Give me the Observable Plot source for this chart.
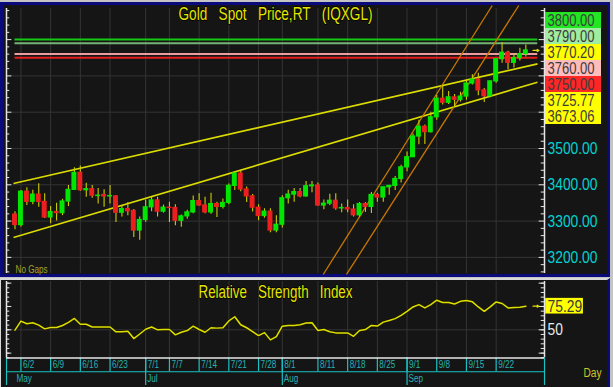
<!DOCTYPE html>
<html><head><meta charset="utf-8">
<script src="https://cdn.jsdelivr.net/npm/d3@7"></script>
<script src="https://cdn.jsdelivr.net/npm/@observablehq/plot@0.6"></script>
<style>
html,body{margin:0;padding:0;background:#c4c4c4;}
#root{position:relative;width:613px;height:387px;overflow:hidden;background:#c4c4c4;}
.pane{position:absolute;box-sizing:border-box;background:#151515;}
#topPane{left:0;top:2px;width:610px;height:275px;border:3px solid #0a0a7c;}
#botPane{left:0;top:278px;width:610px;height:109px;border-top:2px solid #d8d8d8;border-left:1px solid #d8d8d8;border-right:3px solid #0a0a7c;}
</style></head>
<body><div id="root"><div class="pane" id="topPane"></div><div class="pane" id="botPane"></div></div>
<script>
// ---------------- data ----------------
const dates = ["5/30",
 "6/2","6/3","6/4","6/5","6/6","6/9","6/10","6/11","6/12","6/13",
 "6/16","6/17","6/18","6/19","6/20","6/23","6/24","6/25","6/26","6/27","6/30",
 "7/1","7/2","7/3","7/4","7/7","7/8","7/9","7/10","7/11","7/14","7/15","7/16","7/17","7/18",
 "7/21","7/22","7/23","7/24","7/25","7/28","7/29","7/30","7/31",
 "8/1","8/4","8/5","8/6","8/7","8/8","8/11","8/12","8/13","8/14","8/15",
 "8/18","8/19","8/20","8/21","8/22","8/25","8/26","8/27","8/28","8/29",
 "9/1","9/2","9/3","9/4","9/5","9/8","9/9","9/10","9/11","9/12",
 "9/15","9/16","9/17","9/18","9/19","9/22","9/23","9/24","9/25","9/26","9/29"];
const openP = [3318,
 3289,3381,3353,3373,3353,3310,3325,3322,3354,3386,
 3433,3385,3388,3369,3372,3368,3368,3323,3333,3328,3274,
 3303,3338,3357,3326,3337,3336,3301,3313,3324,3355,3343,3324,3347,3339,
 3350,3397,3431,3387,3368,3337,3314,3326,3274,
 3290,3363,3373,3380,3368,3396,3398,3343,3348,3356,3335,
 3336,3332,3316,3347,3339,3372,3365,3393,3397,3416,
 3448,3476,3533,3560,3545,3586,3637,3626,3641,3634,
 3643,3679,3690,3660,3644,3685,3746,3764,3736,3749,3760];
const highP = [3326,
 3384,3392,3385,3403,3375,3340,3349,3360,3398,3447,
 3452,3404,3398,3390,3386,3398,3370,3340,3351,3332,3311,
 3358,3365,3366,3344,3352,3345,3317,3330,3369,3375,3366,3377,3352,3361,
 3402,3433,3439,3394,3373,3345,3334,3334,3315,
 3370,3385,3390,3390,3409,3409,3405,3358,3374,3375,3347,
 3358,3345,3351,3351,3379,3377,3393,3398,3423,3454,
 3490,3540,3578,3565,3600,3646,3674,3657,3649,3655,
 3685,3703,3707,3665,3686,3748,3791,3768,3760,3776,3785];
const lowP = [3276,
 3284,3343,3345,3338,3307,3293,3300,3315,3340,3384,
 3382,3366,3363,3347,3338,3347,3296,3311,3315,3255,3247,
 3297,3326,3311,3322,3296,3287,3283,3305,3320,3341,3320,3319,3310,3333,
 3345,3384,3381,3351,3325,3301,3308,3268,3268,
 3281,3347,3352,3364,3366,3378,3341,3331,3343,3330,3323,
 3323,3311,3311,3324,3321,3352,3352,3371,3384,3405,
 3436,3475,3510,3511,3543,3578,3620,3621,3613,3628,
 3633,3675,3645,3627,3640,3680,3735,3717,3722,3741,3752];
const closeP = [3289,
 3381,3353,3373,3353,3310,3325,3322,3354,3386,3433,
 3385,3388,3370,3370,3368,3369,3323,3333,3327,3274,3303,
 3338,3357,3326,3337,3336,3301,3313,3324,3355,3343,3324,3347,3339,3350,
 3397,3431,3387,3368,3337,3314,3326,3274,3290,
 3363,3373,3380,3368,3396,3398,3343,3348,3356,3335,3336,
 3332,3316,3347,3339,3372,3365,3393,3397,3416,3448,
 3476,3533,3560,3545,3586,3637,3626,3641,3634,3643,
 3679,3690,3660,3644,3685,3746,3764,3736,3749,3760,3770.2];
const rsiValues = [49.6,
 59.3,56.5,57.5,55,51,52.5,52.5,54.6,58,62.2,
 56,56,53,53,53,53,47.8,48,48.5,40.6,45.5,
 50.6,53,50,50.3,50.3,44.6,47.4,49.2,53.9,50.3,47.4,52.2,51.8,52.2,
 59.5,64,55.4,52.2,48,43.8,47,39.2,42.7,
 53.9,54.7,54.7,55.5,57.2,57.6,49.2,50.3,48,46.7,46.7,
 46.7,43,49.2,50.3,54.7,54,58.2,60,62,65.5,
 69.8,74.5,77,73.4,77,81.7,79.2,79.2,77.6,80.5,
 81.4,80,74.5,69.8,74.5,79.9,78.2,73.4,73.8,74.2,75.29];
const tickDates = ["6/2","6/9","6/16","6/23","7/1","7/7","7/14","7/21","7/28","8/1","8/11","8/18","8/25","9/1","9/8","9/15","9/22"];
const monthDates = ["5/30","7/1","8/1","9/1"];
const monthLabels = ["May","Jul","Aug","Sep"];
const priceTicks = [3200,3300,3400,3500];
const priceGrid = [3200,3300,3400,3500,3600,3700];
const levelValues = [3800,3790,3760,3750];
const levelColors = ["#14c814","#74b474","#ec9c9c","#e01c1c"];
const boxLabels = ["3800.00","3790.00","3770.20","3760.00","3750.00","3725.77","3673.06"];
const boxColors = ["#22e622","#a0eca0","#ffff00","#ffbcbc","#ff2626","#ffff00","#ffff00"];
// trendlines: [index1, price1, index2, price2]
const yellowTrends = [[-0.25,3403.6,87.96,3733.1],[-0.25,3255,87.96,3682.6]];
const orangeTrends = [[51.89,3152.9,80.34,3894],[55.81,3153,84.81,3894]];
const lastPrice = 3770.2;
const lastRsi = 75.29;
const titleText = "Gold Spot Price,RT (IQXGL)";
const rsiTitleText = "Relative Strength Index";

// ---------------- helpers ----------------
const root = document.getElementById("root");
function place(el, left, top){el.style.position="absolute";el.style.left=left+"px";el.style.top=top+"px";root.appendChild(el);}
const FONT = "'Liberation Sans Narrow','Arial Narrow','Liberation Sans',Arial,sans-serif";
const XD = [-1.43, 89.14];
const lastIdx = dates.length - 1;
const tickIdx = tickDates.map(d => dates.indexOf(d));
const monthIdx = monthDates.map(d => dates.indexOf(d));
const candles = dates.map((d,i)=>({i, d, o:openP[i], h:highP[i], l:lowP[i], c:closeP[i]}));
const levels = levelValues.map((v,i)=>({v, color:levelColors[i]}));
const PY = [3155.6, 3885.7];
const minorP = d3.range(3160, 3881, 20).filter(v => v % 100 !== 0);
const majorP = d3.range(3200, 3881, 100);
const gridStyle = {stroke:"#343434", strokeOpacity:1, strokeWidth:1};
const tl = s => s.split(" ").join("\u00a0\u00a0\u00a0");

// ---------------- price pane ----------------
const pricePlot = Plot.plot({
  width:613, height:278, marginLeft:6, marginRight:69, marginTop:8, marginBottom:5,
  style:{background:"transparent", overflow:"visible"},
  x:{domain:XD, range:[6,544], axis:null},
  y:{domain:PY, range:[273,8], axis:null},
  color:{type:"identity"},
  marks:[
    Plot.gridY(priceGrid, gridStyle),
    Plot.gridX(tickIdx, gridStyle),
    Plot.ruleY(levels, {y:"v", x1:0, x2:88, stroke:"color", strokeWidth:2}),
    Plot.link(yellowTrends, {x1:d=>d[0], y1:d=>d[1], x2:d=>d[2], y2:d=>d[3], stroke:"#dcdc00", strokeWidth:1.6}),
    Plot.link(orangeTrends, {x1:d=>d[0], y1:d=>d[1], x2:d=>d[2], y2:d=>d[3], stroke:"#c87800", strokeWidth:1.3}),
    Plot.ruleX(candles, {x:"i", y1:"l", y2:"h", stroke:"#cccc00", strokeWidth:1.1}),
    Plot.rect(candles, {x1:d=>d.i-0.42, x2:d=>d.i+0.42, y1:"o", y2:"c", fill:d=>d.c>=d.o?"#00e600":"#ec1e1e", insetTop:-0.6, insetBottom:-0.6}),
    Plot.ruleX(XD, {stroke:"#e6e6e6", strokeWidth:1.5}),
    Plot.ruleY(minorP, {y:d=>d, x1:XD[0], x2:XD[0]+0.55, stroke:"#e6e6e6"}),
    Plot.ruleY(majorP, {y:d=>d, x1:XD[0], x2:XD[0]+0.9, stroke:"#e6e6e6"}),
    Plot.ruleY(minorP, {y:d=>d, x1:XD[1]-0.55, x2:XD[1], stroke:"#e6e6e6"}),
    Plot.ruleY(majorP, {y:d=>d, x1:XD[1]-0.9, x2:XD[1], stroke:"#e6e6e6"}),
    Plot.text(priceTicks, {y:d=>d, text:d=>d.toFixed(2), frameAnchor:"right", dx:3, textAnchor:"start", lineAnchor:"middle", fill:"#00d2d2", fontSize:17, fontFamily:FONT}),
    Plot.arrow([lastPrice], {x1:lastIdx+1.2, x2:lastIdx+2.2, y1:d=>d, y2:d=>d, stroke:"#e0e000", strokeWidth:1.2, headLength:4}),
    Plot.text([tl(titleText)], {frameAnchor:"top", dy:-1.3, lineAnchor:"top", fill:"#e6e600", stroke:"#000", strokeWidth:1.5, paintOrder:"stroke", fontSize:18, fontFamily:FONT}),
    Plot.text(["No Gaps"], {frameAnchor:"bottom-left", dx:9, dy:-1, lineAnchor:"bottom", textAnchor:"start", fill:"#a4a42c", fontSize:10, fontFamily:FONT})
  ]
});
place(pricePlot, 0, 0);

// ---------------- price label boxes ----------------
const boxPlot = Plot.plot({
  width:56, height:118, margin:0,
  style:{background:"transparent", overflow:"visible"},
  x:{domain:[0,1], range:[0,56], axis:null},
  y:{domain:boxLabels, range:[0,118], padding:0, axis:null},
  color:{type:"identity"},
  marks:[
    Plot.barX(boxLabels, {x1:0, x2:1, y:d=>d, fill:(d,i)=>boxColors[i]}),
    Plot.text(boxLabels, {y:d=>d, frameAnchor:"left", dx:2, textAnchor:"start", lineAnchor:"middle", fill:"#3c3c3c", fontSize:16, fontFamily:FONT})
  ]
});
place(boxPlot, 545, 8.6);

// ---------------- RSI pane ----------------
const RY = [19.78, 101.77];
const rsiData = rsiValues.map((v,i)=>({i, v}));
const minorR = d3.range(20, 101, 5);
const majorR = [25, 50, 75, 100];
const rsiPlot = Plot.plot({
  width:613, height:80, marginLeft:6, marginRight:69, marginTop:3, marginBottom:0.5,
  style:{background:"transparent", overflow:"visible"},
  x:{domain:XD, range:[6,544], axis:null},
  y:{domain:RY, range:[79.5,3], axis:null},
  marks:[
    Plot.gridY([50], gridStyle),
    Plot.gridX(tickIdx, gridStyle),
    Plot.line(rsiData, {x:"i", y:"v", stroke:"#1a1a00", strokeWidth:3.2}),
    Plot.line(rsiData, {x:"i", y:"v", stroke:"#dede00", strokeWidth:1.5}),
    Plot.ruleX(XD, {stroke:"#e6e6e6", strokeWidth:1.5}),
    Plot.ruleY(minorR, {y:d=>d, x1:XD[0], x2:XD[0]+0.55, stroke:"#e6e6e6"}),
    Plot.ruleY(majorR, {y:d=>d, x1:XD[0], x2:XD[0]+0.9, stroke:"#e6e6e6"}),
    Plot.ruleY(minorR, {y:d=>d, x1:XD[1]-0.55, x2:XD[1], stroke:"#e6e6e6"}),
    Plot.ruleY(majorR, {y:d=>d, x1:XD[1]-0.9, x2:XD[1], stroke:"#e6e6e6"}),
    Plot.text([tl(rsiTitleText)], {frameAnchor:"top", dy:4, lineAnchor:"top", fill:"#e6e600", stroke:"#000", strokeWidth:1.5, paintOrder:"stroke", fontSize:18, fontFamily:FONT}),
    Plot.rect([lastRsi], {x1:XD[1]+0.2, x2:XD[1]+6.55, y1:d=>d-8.4, y2:d=>d+8.4, fill:"#ffff00"}),
    Plot.text([lastRsi], {y:d=>d, text:d=>d.toFixed(2), frameAnchor:"right", dx:3, textAnchor:"start", lineAnchor:"middle", fill:"#3c3c3c", fontSize:17, fontFamily:FONT}),
    Plot.text([50], {y:d=>d, text:d=>String(d), frameAnchor:"right", dx:3, textAnchor:"start", lineAnchor:"middle", fill:"#e8e8e8", fontSize:17, fontFamily:FONT}),
    Plot.arrow([lastRsi], {x1:lastIdx+1.2, x2:lastIdx+2.2, y1:d=>d, y2:d=>d, stroke:"#e0e000", strokeWidth:1.2, headLength:4})
  ]
});
place(rsiPlot, 0, 278);

// ---------------- date rows ----------------
const datePlot = Plot.plot({
  width:613, height:30, marginLeft:6, marginRight:69, marginTop:0.5, marginBottom:2,
  style:{background:"transparent", overflow:"visible"},
  x:{domain:XD, range:[6,544], axis:null},
  y:{domain:[0,2], range:[28,0.5], axis:null},
  marks:[
    Plot.ruleY([1], {x1:XD[0], x2:XD[1], stroke:"#1cc2c2", strokeWidth:1.2}),
    Plot.ruleX(tickIdx, {y1:1, y2:2, stroke:"#1cc2c2", strokeWidth:1.2}),
    Plot.ruleX(monthIdx.slice(1), {y1:0, y2:2, stroke:"#1cc2c2", strokeWidth:1.2}),
    Plot.ruleX(XD, {y1:0, y2:2, stroke:"#1cc2c2", strokeWidth:1.2}),
    Plot.ruleY([2], {x1:XD[0], x2:XD[1], stroke:"#e6e6e6", strokeWidth:1.5}),
    Plot.text(tickDates, {x:(d,i)=>tickIdx[i], y:1.5, dx:2, textAnchor:"start", lineAnchor:"middle", fill:"#26b2b2", fontSize:10, fontFamily:FONT}),
    Plot.text(monthLabels, {x:(d,i)=>monthIdx[i], y:0.5, dx:1.5, textAnchor:"start", lineAnchor:"middle", fill:"#26b2b2", fontSize:10, fontFamily:FONT}),
    Plot.text(["Day"], {frameAnchor:"right", y:0.91, dx:39, textAnchor:"start", lineAnchor:"middle", fill:"#c8c828", fontSize:12.5, fontFamily:FONT})
  ]
});
place(datePlot, 0, 357);

// ---------------- condense text to the narrow face of the original ----------------
const allTexts = [...root.querySelectorAll("svg text")];
const ref = allTexts.find(t => t.textContent === "3500.00");
const k = ref ? Math.min(1, 50 / ref.getComputedTextLength()) : 1;
const explicit = new Map([[tl(titleText), 194], [tl(rsiTitleText), 154]]);
allTexts.forEach(t => {
  const len = t.getComputedTextLength();
  if (!(len > 0)) return;
  const target = explicit.has(t.textContent) ? explicit.get(t.textContent) : len * k;
  t.setAttribute("textLength", target.toFixed(2));
  t.setAttribute("lengthAdjust", "spacingAndGlyphs");
});
</script>
</body></html>
